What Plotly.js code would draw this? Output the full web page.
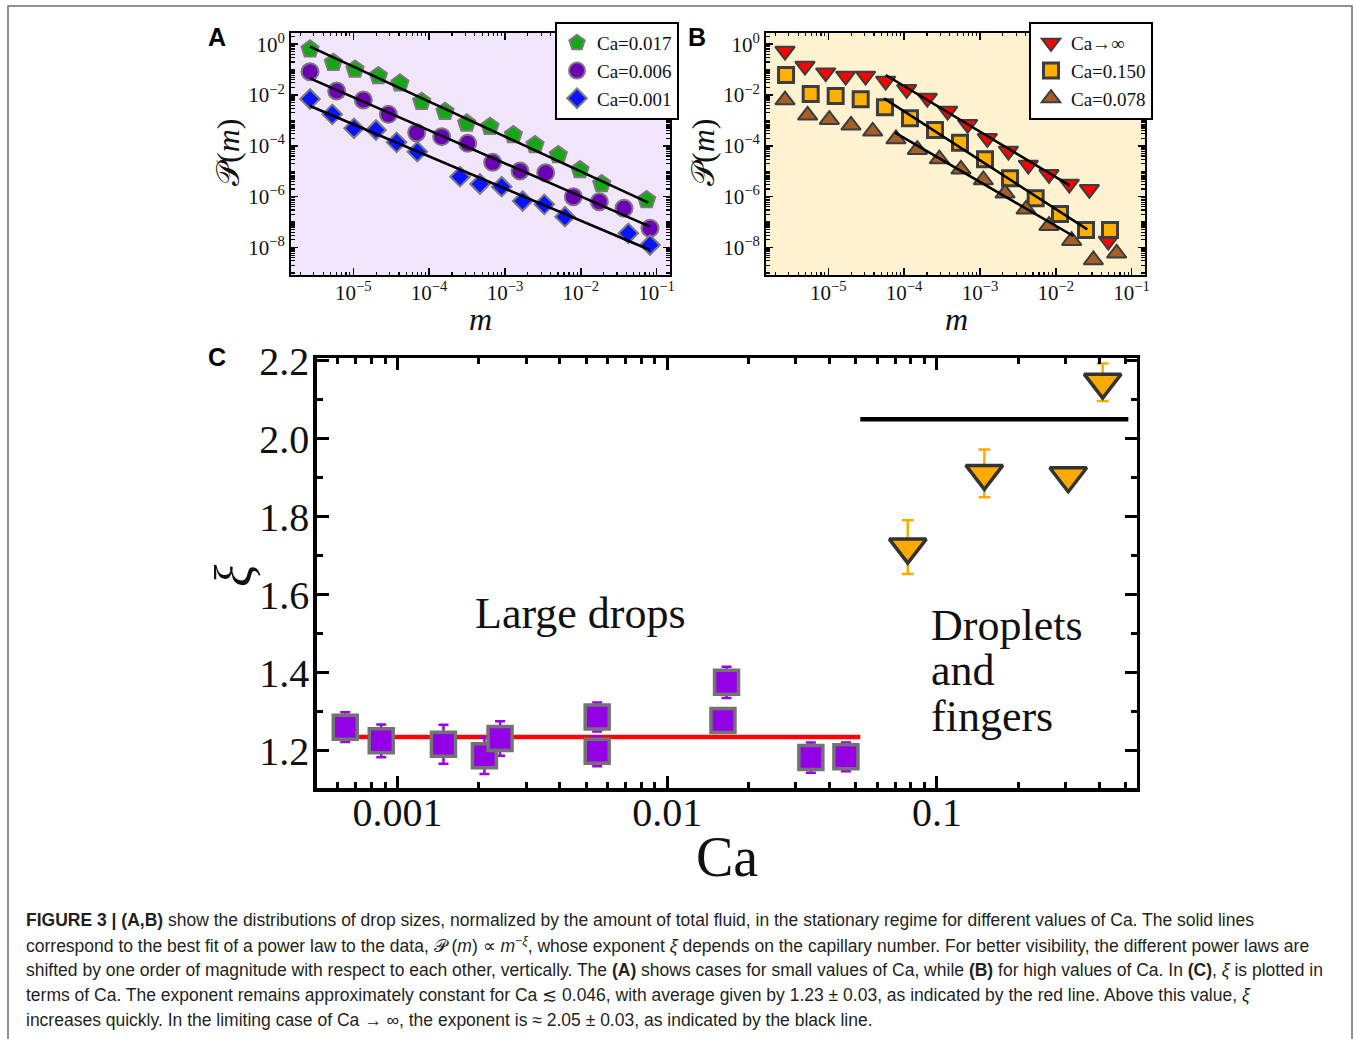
<!DOCTYPE html>
<html>
<head>
<meta charset="utf-8">
<script src="https://cdn.plot.ly/plotly-3.0.1.min.js"></script>
<style>
  html, body { margin: 0; padding: 0; background: #ffffff; }
  #chart { width: 1354px; height: 1039px; }
</style>
</head>
<body>
<div id="chart"></div>
<script>
// ---------------- Panel A data (small Ca) ----------------
const mA_017 = [2.685e-6, 5.445e-6, 1.052e-5, 2.138e-5, 4.121e-5, 7.96e-5, 1.618e-4, 3.126e-4, 6.34e-4, 1.288e-3, 2.489e-3, 5.047e-3, 9.75e-3, 1.884e-2, 7.38e-2];
const pA_017 = [0.627, 0.187, 0.102, 0.0560, 0.0288, 5.47e-3, 2.21e-3, 7.67e-4, 5.68e-4, 2.67e-4, 1.08e-4, 4.36e-5, 1.12e-5, 3.15e-6, 7.40e-7];
const mA_006 = [2.685e-6, 6.03e-6, 1.355e-5, 2.90e-5, 6.84e-5, 1.462e-4, 3.22e-4, 6.87e-4, 1.578e-3, 3.44e-3, 7.96e-3, 1.754e-2, 3.71e-2, 8.17e-2];
const pA_006 = [0.0828, 0.01436, 6.35e-3, 1.734e-3, 3.30e-4, 2.30e-4, 1.254e-4, 2.24e-5, 1.023e-5, 8.79e-6, 1.0e-6, 6.35e-7, 3.48e-7, 5.68e-8];
const mA_001 = [2.685e-6, 5.28e-6, 1.021e-5, 1.99e-5, 3.72e-5, 6.98e-5, 2.55e-4, 4.68e-4, 9.04e-4, 1.71e-3, 3.30e-3, 6.18e-3, 4.23e-2, 8.17e-2];
const pA_001 = [6.97e-3, 1.734e-3, 4.89e-4, 4.20e-4, 1.374e-4, 5.89e-5, 6.12e-6, 3.15e-6, 2.47e-6, 6.76e-7, 4.99e-7, 1.633e-7, 3.61e-8, 1.254e-8];
// power-law fit lines (end points)
const fitA_017_m = [2.685e-6, 7.76e-2], fitA_017_p = [0.798, 5.81e-7];
const fitA_006_m = [2.685e-6, 8.17e-2], fitA_006_p = [0.0453, 6.61e-8];
const fitA_001_m = [2.685e-6, 8.17e-2], fitA_001_p = [3.69e-3, 7.98e-9];

// ---------------- Panel B data (high Ca) ----------------
const mB_inf = [2.685e-6, 4.92e-6, 9.23e-6, 1.694e-5, 3.10e-5, 5.70e-5, 1.079e-4, 2.02e-4, 3.75e-4, 6.87e-4, 1.250e-3, 2.37e-3, 4.34e-3, 8.13e-3, 1.507e-2, 2.77e-2, 4.92e-2];
const pB_inf = [0.538, 0.138, 0.0757, 0.0560, 0.0560, 0.0356, 0.0167, 7.62e-3, 2.34e-3, 7.02e-4, 1.972e-4, 6.27e-5, 1.762e-5, 7.57e-6, 3.15e-6, 1.945e-6, 1.803e-8];
const mB_150 = [2.77e-6, 5.85e-6, 1.250e-5, 2.67e-5, 5.58e-5, 1.194e-4, 2.55e-4, 5.45e-4, 1.164e-3, 2.49e-3, 5.42e-3, 1.135e-2, 2.50e-2, 5.18e-2];
const pB_150 = [0.0612, 0.01094, 9.14e-3, 6.76e-3, 3.27e-3, 1.208e-3, 4.20e-4, 1.334e-4, 2.94e-5, 5.26e-6, 8.59e-7, 2.08e-7, 4.89e-8, 4.89e-8];
const mB_078 = [2.685e-6, 5.33e-6, 1.030e-5, 1.99e-5, 3.85e-5, 7.80e-5, 1.493e-4, 2.91e-4, 5.61e-4, 1.107e-3, 2.14e-3, 4.05e-3, 8.13e-3, 1.618e-2, 3.13e-2, 6.34e-2];
const pB_078 = [6.35e-3, 1.585e-3, 1.072e-3, 6.41e-4, 3.72e-4, 1.858e-4, 7.06e-5, 3.03e-5, 1.189e-5, 4.53e-6, 1.352e-6, 3.18e-7, 7.23e-8, 1.858e-8, 3.22e-9, 5.89e-9];
const fitB_inf_m = [5.70e-5, 1.538e-2], fitB_inf_p = [0.0612, 2.71e-6];
const fitB_150_m = [5.42e-5, 2.60e-2], fitB_150_p = [7.40e-3, 5.19e-8];
const fitB_078_m = [7.57e-5, 1.702e-2], fitB_078_p = [3.30e-4, 2.83e-8];

// ---------------- Panel C data (exponent vs Ca) ----------------
const caSmall  = [0.00064, 0.00087, 0.00148, 0.0021, 0.0024, 0.0055, 0.0055, 0.0166, 0.0161, 0.0341, 0.046];
const xiSmall  = [1.260, 1.225, 1.216, 1.187, 1.231, 1.286, 1.198, 1.375, 1.277, 1.182, 1.184];
const errSmall = [0.038, 0.042, 0.050, 0.047, 0.044, 0.037, 0.038, 0.040, 0.030, 0.039, 0.037];
const caLarge  = [0.078, 0.150, 0.307, 0.412];
const xiLarge  = [1.722, 1.911, 1.905, 2.145];
const errLarge = [0.069, 0.061, 0.015, 0.048];
const redFitCa = [0.00072, 0.052], redFitXi = [1.235, 1.235];
const blackFitCa = [0.052, 0.513], blackFitXi = [2.05, 2.05];
const caBoundary = 0.046;

// tick labels
const decadeVals = [1e-5, 1e-4, 1e-3, 1e-2, 1e-1];
const decadeText = ['10<sup>−5</sup>', '10<sup>−4</sup>', '10<sup>−3</sup>', '10<sup>−2</sup>', '10<sup>−1</sup>'];
const pVals = [1, 1e-2, 1e-4, 1e-6, 1e-8];
const pText = ['10<sup>0</sup>', '10<sup>−2</sup>', '10<sup>−4</sup>', '10<sup>−6</sup>', '10<sup>−8</sup>'];
const caTickVals = [0.001, 0.01, 0.1];
const caTickText = ['0.001', '0.01', '0.1'];

// ---------------- styling ----------------
const W = 1354, H = 1039;
const SERIF = 'Liberation Serif, Times New Roman, serif';
const SANS = 'Liberation Sans, Arial, sans-serif';
const px = v => v / W;
const py = v => 1 - v / H;

const rangeAx = [-5.822, -0.824], rangeAy = [-9.082, 0.452];
const rangeCx = [-3.2994, -0.259], rangeCy = [1.104, 2.207];

const grayEdge = {color: '#7a7a7a', width: 2};
const darkEdge = {color: '#3d3d3d', width: 2};

function pts(x, y, name, xa, ya, leg, marker) {
  return {x, y, name, type: 'scatter', mode: 'markers', xaxis: xa, yaxis: ya, legend: leg, marker, showlegend: true};
}
function fit(x, y, xa, ya, color, width) {
  return {x, y, type: 'scatter', mode: 'lines', xaxis: xa, yaxis: ya, showlegend: false, hoverinfo: 'skip',
          line: {color, width}};
}

const traces = [
  // panel A
  pts(mA_017, pA_017, 'Ca=0.017', 'x', 'y', 'legend', {symbol: 'pentagon', size: 18, color: '#14a814', line: grayEdge}),
  pts(mA_006, pA_006, 'Ca=0.006', 'x', 'y', 'legend', {symbol: 'circle', size: 17, color: '#6c00b4', line: grayEdge}),
  pts(mA_001, pA_001, 'Ca=0.001', 'x', 'y', 'legend', {symbol: 'diamond', size: 15, color: '#0a14ff', line: grayEdge}),
  fit(fitA_017_m, fitA_017_p, 'x', 'y', '#000', 2.5),
  fit(fitA_006_m, fitA_006_p, 'x', 'y', '#000', 2.5),
  fit(fitA_001_m, fitA_001_p, 'x', 'y', '#000', 2.5),
  // panel B
  pts(mB_inf, pB_inf, 'Ca→∞', 'x2', 'y2', 'legend2', {symbol: 'triangle-down', size: 17, color: '#ff0000', line: darkEdge}),
  pts(mB_150, pB_150, 'Ca=0.150', 'x2', 'y2', 'legend2', {symbol: 'square', size: 15, color: '#ffb000', line: {color: '#3d3d3d', width: 3}}),
  pts(mB_078, pB_078, 'Ca=0.078', 'x2', 'y2', 'legend2', {symbol: 'triangle-up', size: 17, color: '#a5602a', line: darkEdge}),
  fit(fitB_inf_m, fitB_inf_p, 'x2', 'y2', '#000', 2.5),
  fit(fitB_150_m, fitB_150_p, 'x2', 'y2', '#000', 2.5),
  fit(fitB_078_m, fitB_078_p, 'x2', 'y2', '#000', 2.5),
  // panel C
  fit(redFitCa, redFitXi, 'x3', 'y3', '#ff0000', 4.5),
  fit(blackFitCa, blackFitXi, 'x3', 'y3', '#000000', 4.5),
  {x: caSmall, y: xiSmall, type: 'scatter', mode: 'markers', xaxis: 'x3', yaxis: 'y3', showlegend: false,
   error_y: {type: 'data', array: errSmall, visible: true, color: '#9a00e8', thickness: 2.5, width: 5},
   marker: {symbol: 'square', size: 24, color: '#9400e6', line: {color: '#737373', width: 3.5}}},
  {x: caLarge, y: xiLarge, type: 'scatter', mode: 'markers', xaxis: 'x3', yaxis: 'y3', showlegend: false,
   error_y: {type: 'data', array: errLarge, visible: true, color: '#ffaa00', thickness: 2.5, width: 6},
   marker: {symbol: 'triangle-down', size: 32, color: '#ffaa00', line: {color: '#333333', width: 3.5}}}
];

const tickFontSmall = {family: SERIF, size: 21, color: '#111'};
function logAxisA(domain, anchor) {
  return {
    type: 'log', domain, anchor, range: rangeAx.slice(),
    tickmode: 'array', tickvals: decadeVals, ticktext: decadeText,
    ticks: 'inside', ticklen: 7, tickwidth: 1.5, tickcolor: '#000',
    showline: true, linewidth: 2, linecolor: '#000', mirror: 'allticks',
    showgrid: false, zeroline: false, tickfont: tickFontSmall, ticklabelstandoff: -2,
    minor: {ticks: 'inside', ticklen: 3.5, tickwidth: 1.2, tickcolor: '#000', dtick: 'D1', showgrid: false}
  };
}
function logAxisAy(domain, anchor) {
  return {
    type: 'log', domain, anchor, range: rangeAy.slice(),
    tickmode: 'array', tickvals: pVals, ticktext: pText,
    ticks: 'inside', ticklen: 7, tickwidth: 1.5, tickcolor: '#000',
    showline: true, linewidth: 2, linecolor: '#000', mirror: 'allticks',
    showgrid: false, zeroline: false, tickfont: tickFontSmall,
    minor: {ticks: 'inside', ticklen: 4, tickwidth: 1.2, tickcolor: '#000', dtick: 'D1', showgrid: false}
  };
}

function label(text, x, y, size, opts) {
  return Object.assign({text, x: px(x), y: py(y), xref: 'paper', yref: 'paper', showarrow: false,
    xanchor: 'center', yanchor: 'middle', font: {family: SERIF, size, color: '#111'}}, opts || {});
}

const yDomAB = [py(275), py(32.7)];
const layout = {
  width: W, height: H,
  margin: {l: 0, r: 0, t: 0, b: 0, pad: 0},
  paper_bgcolor: '#ffffff', plot_bgcolor: 'rgba(0,0,0,0)',
  showlegend: true,
  xaxis: logAxisA([px(291), px(670)], 'y'),
  yaxis: logAxisAy(yDomAB, 'x'),
  xaxis2: logAxisA([px(766), px(1145)], 'y2'),
  yaxis2: logAxisAy(yDomAB, 'x2'),
  xaxis3: {
    type: 'log', domain: [px(316.8), px(1136.7)], anchor: 'y3', range: rangeCx.slice(),
    tickmode: 'array', tickvals: caTickVals, ticktext: caTickText,
    ticks: 'inside', ticklen: 12, tickwidth: 3, tickcolor: '#000',
    showline: true, linewidth: 3.5, linecolor: '#000', mirror: 'allticks',
    showgrid: false, zeroline: false, tickfont: {family: SERIF, size: 40, color: '#111'},
    ticklabelstandoff: -14,
    minor: {ticks: 'inside', ticklen: 6, tickwidth: 3, tickcolor: '#000', dtick: 'D1', showgrid: false}
  },
  yaxis3: {
    domain: [py(788), py(358)], anchor: 'x3', range: rangeCy.slice(),
    tick0: 1.2, dtick: 0.2, tickformat: '.1f',
    ticks: 'inside', ticklen: 12, tickwidth: 3, tickcolor: '#000',
    showline: true, linewidth: 3.5, linecolor: '#000', mirror: 'allticks',
    showgrid: false, zeroline: false, tickfont: {family: SERIF, size: 40, color: '#111'},
    ticklabelstandoff: -4,
    minor: {ticks: 'inside', ticklen: 6, tickwidth: 3, tickcolor: '#000', dtick: 0.1, showgrid: false}
  },
  legend: {
    x: px(679), y: py(22), xanchor: 'right', yanchor: 'top',
    bgcolor: '#ffffff', bordercolor: '#000', borderwidth: 2,
    font: {family: SERIF, size: 19, color: '#111'}, tracegroupgap: 0, itemclick: false
  },
  legend2: {
    x: px(1153), y: py(22), xanchor: 'right', yanchor: 'top',
    bgcolor: '#ffffff', bordercolor: '#000', borderwidth: 2,
    font: {family: SERIF, size: 19, color: '#111'}, tracegroupgap: 0, itemclick: false
  },
  shapes: [
    {type: 'rect', xref: 'x domain', yref: 'y domain', x0: 0, x1: 1, y0: 0, y1: 1,
     fillcolor: '#f1e5fb', line: {width: 0}, layer: 'below'},
    {type: 'rect', xref: 'x2 domain', yref: 'y2 domain', x0: 0, x1: 1, y0: 0, y1: 1,
     fillcolor: '#fef2d1', line: {width: 0}, layer: 'below'},
    {type: 'rect', xref: 'x3', yref: 'y3 domain', x0: rangeCx[0], x1: Math.log10(caBoundary), y0: 0, y1: 1,
     fillcolor: '#ede4fd', line: {width: 0}, layer: 'below'},
    {type: 'rect', xref: 'x3', yref: 'y3 domain', x0: Math.log10(caBoundary), x1: rangeCx[1], y0: 0, y1: 1,
     fillcolor: '#fdf1d0', line: {width: 0}, layer: 'below'},
    {type: 'rect', xref: 'paper', yref: 'paper', x0: px(8), x1: px(1352), y0: -0.02, y1: py(6),
     line: {color: '#6e6e6e', width: 1.5}, fillcolor: 'rgba(0,0,0,0)', layer: 'below'}
  ],
  annotations: [
    // panel letters
    label('<b>A</b>', 217, 37, 25, {font: {family: SANS, size: 25, color: '#000'}}),
    label('<b>B</b>', 697, 37, 25, {font: {family: SANS, size: 25, color: '#000'}}),
    label('<b>C</b>', 217, 357, 25, {font: {family: SANS, size: 25, color: '#000'}}),
    // axis titles
    label('𝒫(<i>m</i>)', 228, 153, 32, {textangle: -90}),
    label('𝒫(<i>m</i>)', 703, 153, 32, {textangle: -90}),
    label('<i>m</i>', 481, 319, 32),
    label('<i>m</i>', 956, 319, 32),
    label('<i>ξ</i>', 233, 576, 52, {textangle: -90}),
    label('Ca', 727, 857, 56),
    // region labels
    label('Large drops', 580, 613, 44),
    label('Droplets', 929, 625, 44, {xanchor: 'left'}),
    label('and', 929, 670, 44, {xanchor: 'left'}),
    label('fingers', 929, 716, 44, {xanchor: 'left'})
  ]
};

// caption
const captionLines = [
  '<b>FIGURE 3 | (A,B)</b> show the distributions of drop sizes, normalized by the amount of total fluid, in the stationary regime for different values of Ca. The solid lines',
  'correspond to the best fit of a power law to the data, 𝒫 (<i>m</i>) ∝ <i>m</i><sup>−<i>ξ</i></sup>, whose exponent <i>ξ</i> depends on the capillary number. For better visibility, the different power laws are',
  'shifted by one order of magnitude with respect to each other, vertically. The <b>(A)</b> shows cases for small values of Ca, while <b>(B)</b> for high values of Ca. In <b>(C)</b>, <i>ξ</i> is plotted in',
  'terms of Ca. The exponent remains approximately constant for Ca ≲ 0.046, with average given by 1.23 ± 0.03, as indicated by the red line. Above this value, <i>ξ</i>',
  'increases quickly. In the limiting case of Ca → ∞, the exponent is ≈ 2.05 ± 0.03, as indicated by the black line.'
];
const captionY = [920, 945, 970, 995, 1020];
captionLines.forEach((t, i) => {
  layout.annotations.push({text: t, x: px(24), y: py(captionY[i]), xref: 'paper', yref: 'paper',
    xanchor: 'left', yanchor: 'middle', showarrow: false, align: 'left',
    font: {family: SANS, size: 17.5, color: '#231f20'}});
});

Plotly.newPlot('chart', traces, layout, {displayModeBar: false, staticPlot: true});
</script>
</body>
</html>
